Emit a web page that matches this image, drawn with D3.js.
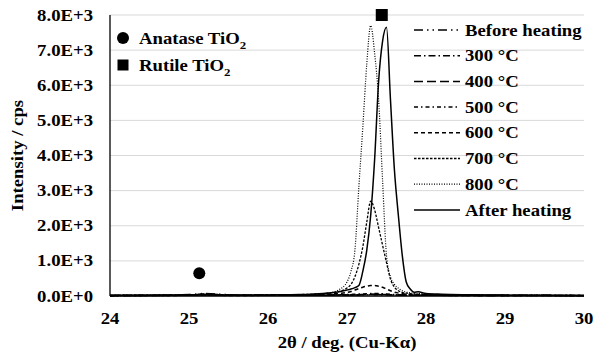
<!DOCTYPE html>
<html>
<head>
<meta charset="utf-8">
<script src="https://cdn.jsdelivr.net/npm/d3@7"></script>
<style>
  body { margin: 0; background: #fff; }
</style>
</head>
<body>
<svg id="xrd" width="595" height="356"></svg>
<script>
// 2-theta sample positions (deg.)
const twoTheta = [24.0, 24.5, 25.0, 25.2, 25.4, 25.6, 26.0, 26.4, 26.6, 26.8, 26.9, 27.0, 27.05, 27.1, 27.15, 27.2, 27.25, 27.3, 27.35, 27.4, 27.45, 27.5, 27.55, 27.6, 27.65, 27.7, 27.75, 27.8, 27.85, 27.9, 28.0, 28.2, 28.5, 29.0, 29.5, 30.0];

// intensity (cps)
const beforeHeating = [15, 20, 40, 70, 50, 25, 20, 20, 20, 25, 25, 30, 30, 30, 30, 32, 34, 35, 38, 40, 38, 35, 32, 30, 28, 25, 25, 22, 22, 20, 20, 20, 20, 18, 18, 15];
const t300 = [12, 18, 30, 55, 40, 22, 18, 18, 20, 22, 25, 28, 30, 30, 32, 35, 38, 40, 42, 42, 40, 36, 32, 30, 28, 25, 24, 22, 22, 20, 20, 18, 18, 16, 15, 14];
const t400 = [10, 15, 28, 45, 35, 20, 18, 20, 22, 25, 28, 30, 32, 35, 38, 42, 45, 48, 50, 50, 46, 42, 38, 34, 30, 28, 26, 24, 22, 20, 20, 18, 16, 15, 14, 12];
const t500 = [10, 14, 25, 40, 30, 18, 18, 22, 25, 30, 35, 40, 45, 50, 55, 60, 65, 68, 70, 68, 62, 55, 48, 40, 35, 30, 28, 26, 24, 22, 20, 18, 16, 14, 12, 10];
const t600 = [10, 15, 20, 30, 20, 15, 20, 30, 40, 60, 75, 100, 130, 170, 210, 250, 280, 300, 300, 280, 250, 200, 150, 110, 85, 65, 55, 45, 40, 35, 30, 25, 20, 15, 15, 10];
const t700 = [20, 25, 30, 50, 35, 25, 30, 40, 55, 90, 130, 230, 330, 550, 900, 1400, 2100, 2700, 2450, 1950, 1450, 950, 480, 250, 150, 100, 80, 65, 55, 50, 40, 30, 25, 20, 20, 15];
const t800 = [10, 15, 20, 30, 20, 15, 20, 30, 50, 100, 180, 400, 700, 1300, 3100, 4800, 6600, 7700, 6900, 5600, 3300, 1150, 550, 330, 220, 150, 110, 90, 80, 70, 50, 35, 25, 20, 15, 10];
const afterHeating = [20, 20, 25, 30, 25, 20, 30, 40, 60, 90, 120, 170, 200, 240, 300, 700, 1300, 2300, 3900, 6100, 7250, 7650, 5600, 3600, 2300, 1150, 400, 200, 110, 120, 70, 50, 35, 25, 20, 15];

const seriesNames = ["Before heating", "300 °C", "400 °C", "500 °C", "600 °C", "700 °C", "800 °C", "After heating"];
const seriesValues = [beforeHeating, t300, t400, t500, t600, t700, t800, afterHeating];

// phase markers
const anatasePeak = [25.13, 650];
const rutilePeak = [27.44, 8000];

const xTicks = [24, 25, 26, 27, 28, 29, 30];
const yTicks = [0, 1000, 2000, 3000, 4000, 5000, 6000, 7000, 8000];

const width = 595, height = 356;
const margin = { top: 15, right: 11, bottom: 60, left: 110 };
const FS = 16;      // font size
const SX = 1.17;    // glyphs in the original are a little wider than Times

const svg = d3.select('#xrd');

const x = d3.scaleLinear().domain([24, 30]).range([margin.left, width - margin.right]);
const y = d3.scaleLinear().domain([0, 8000]).range([height - margin.bottom, margin.top]);

const fmt = v => v === 0 ? '0.0E+0' : (v / 1000).toFixed(1) + 'E+3';

// bold serif label, widened a bit along its own direction
function label(g, txt, lx, ly, anchor, rot) {
  return g.append('text')
    .attr('transform', 'translate(' + lx + ',' + ly + ')' + (rot ? ' rotate(' + rot + ')' : '') + ' scale(' + SX + ',1)')
    .attr('dy', '0.35em')
    .attr('text-anchor', anchor)
    .style('font-family', "'Liberation Serif', 'Times New Roman', serif")
    .style('font-weight', 'bold')
    .style('font-size', FS + 'px')
    .style('fill', '#000')
    .text(txt);
}

// gridlines
svg.append('g')
  .selectAll('line')
  .data(yTicks.filter(d => d > 0))
  .enter()
  .append('line')
  .attr('x1', x(24)).attr('x2', x(30))
  .attr('y1', d => y(d)).attr('y2', d => y(d))
  .attr('stroke', '#d9d9d9')
  .attr('stroke-width', 1);

// tick labels
const yLab = svg.append('g');
yTicks.forEach(d => label(yLab, fmt(d), 93, y(d), 'end'));
const xLab = svg.append('g');
xTicks.forEach(d => label(xLab, d, x(d), 318, 'middle'));

// axis titles
label(svg, '2θ / deg. (Cu-Kα)', x(27), 342, 'middle');
label(svg, 'Intensity / cps', 17, (height - margin.bottom + margin.top) / 2, 'middle', -90);

// line styles
const dashes = ['9,4,1.5,4,1.5,4', '7,3,1.5,3', '9,4', '4,3,1.5,3', '4,3', '2.5,1.5', '1,1.5', null];
const widths = [1.5, 1.5, 1.5, 1.5, 1.5, 1.3, 1.2, 1.5];

const line = d3.line()
  .x((d, i) => x(twoTheta[i]))
  .y(d => y(d))
  .curve(d3.curveMonotoneX);

const lines = svg.append('g').attr('class', 'lines');
seriesValues.forEach((vals, k) => {
  lines.append('path')
    .datum(vals)
    .attr('d', line)
    .attr('fill', 'none')
    .attr('stroke', '#000')
    .attr('stroke-width', widths[k])
    .attr('stroke-dasharray', dashes[k]);
});

// axes lines
svg.append('line')
  .attr('x1', x(24)).attr('x2', x(24))
  .attr('y1', y(8000)).attr('y2', y(0))
  .attr('stroke', '#000').attr('stroke-width', 1.3);
svg.append('line')
  .attr('x1', x(24)).attr('x2', x(30))
  .attr('y1', y(0)).attr('y2', y(0))
  .attr('stroke', '#000').attr('stroke-width', 1.5);

// phase markers on plot
svg.append('circle')
  .attr('cx', x(anatasePeak[0])).attr('cy', y(anatasePeak[1]))
  .attr('r', 6).attr('fill', '#000');
svg.append('rect')
  .attr('x', x(rutilePeak[0]) - 6).attr('y', y(rutilePeak[1]) - 6)
  .attr('width', 12).attr('height', 12).attr('fill', '#000');

// phase legend
const phase = svg.append('g');
phase.append('circle').attr('cx', 123).attr('cy', 38).attr('r', 6).attr('fill', '#000');
phase.append('rect').attr('x', 117.5).attr('y', 59.5).attr('width', 11).attr('height', 11).attr('fill', '#000');
[['Anatase TiO', 38], ['Rutile TiO', 65]].forEach(([txt, yy]) => {
  const t = label(phase, txt, 139, yy, 'start');
  t.append('tspan').attr('dy', 5).style('font-size', '11px').text('2');
});

// series legend
const legend = svg.append('g');
seriesNames.forEach((name, k) => {
  const ly = 30 + k * 25.7;
  legend.append('line')
    .attr('x1', 414).attr('x2', 460)
    .attr('y1', ly).attr('y2', ly)
    .attr('stroke', '#000')
    .attr('stroke-width', widths[k])
    .attr('stroke-dasharray', dashes[k]);
  label(legend, name, 465, ly, 'start');
});
</script>
</body>
</html>
